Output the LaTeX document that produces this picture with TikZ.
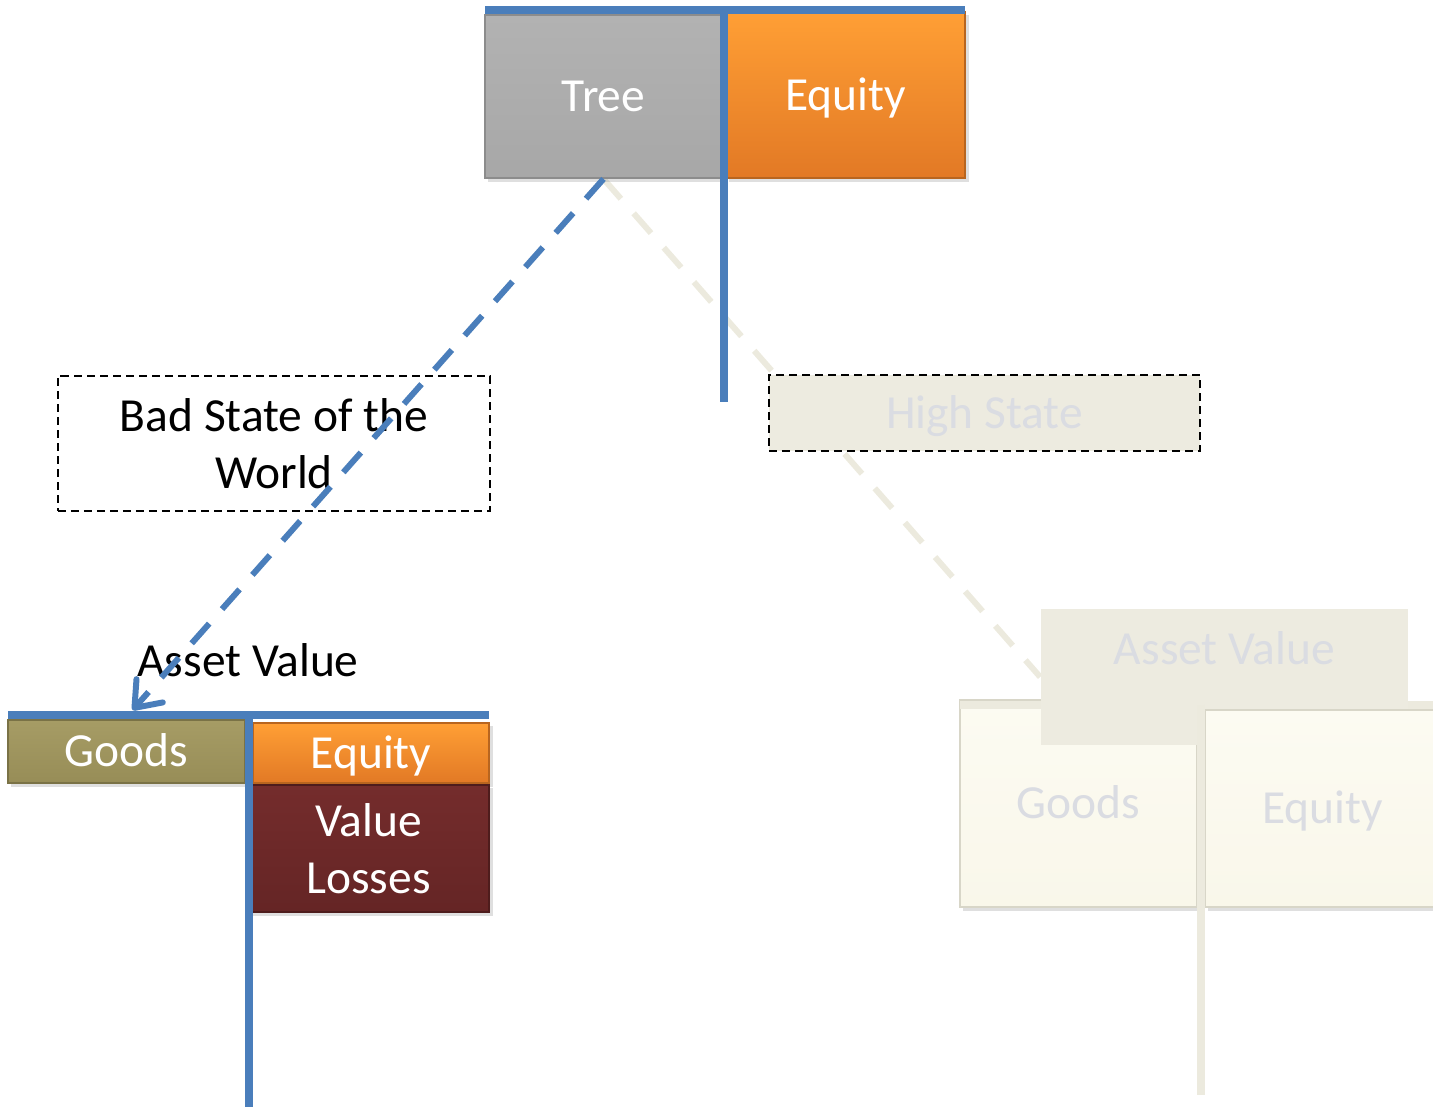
\documentclass[tikz,border=0pt]{standalone}
\usepackage{fontspec}
\setmainfont{Carlito}
\usepackage{xcolor}
\definecolor{barblue}{RGB}{74, 126, 187}
\definecolor{treegray}{RGB}{178, 178, 178}
\definecolor{treeedge}{RGB}{140, 140, 140}
\definecolor{eqtop}{RGB}{255, 159, 53}
\definecolor{eqbot}{RGB}{226, 121, 37}
\definecolor{eqedge}{RGB}{184, 101, 31}
\definecolor{goodstop}{RGB}{166, 156, 101}
\definecolor{goodsbot}{RGB}{151, 141, 87}
\definecolor{goodsedge}{RGB}{122, 114, 70}
\definecolor{losstop}{RGB}{116, 44, 44}
\definecolor{lossbot}{RGB}{101, 37, 37}
\definecolor{lossedge}{RGB}{78, 28, 28}
\definecolor{paletop}{RGB}{252, 251, 242}
\definecolor{palebot}{RGB}{249, 247, 234}
\definecolor{paleedge}{RGB}{216, 214, 200}
\definecolor{statefill}{RGB}{237, 235, 224}
\definecolor{palebar}{RGB}{236, 234, 222}
\definecolor{fainttext}{RGB}{218, 220, 226}
\usepackage{tikz}
\usetikzlibrary{arrows.meta,shapes,shadows,calc}
\pgfdeclarelayer{bg}
\pgfsetlayers{bg,main}
\newcommand{\sheetfont}{\fontsize{13.5}{16.3}\selectfont}

\begin{document}
\begin{tikzpicture}[x = 0.01cm, y = -0.01cm,
  box/.style = {rectangle, draw, line width = 0.5pt, inner sep = 0pt, align = center, text = white, font = \sheetfont, drop shadow = {shadow xshift = 1pt, shadow yshift = -1pt, opacity = 0.25}},
  oneline/.style = {text height = 8.7pt, text depth = 0pt},
  statebox/.style = {rectangle, draw = black, line width = 0.6pt, dash pattern = on 2.3pt off 1.4pt, inner sep = 0pt, align = center, font = \sheetfont},
  tbar/.style = {draw = barblue, line width = 2pt},
  palet/.style = {draw = palebar, line width = 2pt},
  branch/.style = {line width = 1.7pt, dash pattern = on 7.5pt off 5.5pt}]
\useasboundingbox (0,0) rectangle (1433,1107);
% Today
\node[box, oneline, top color = treegray, bottom color = treegray!94!black, draw = treeedge, minimum width = 2.37cm, minimum height = 1.63cm] (tree) at (603.5,96.5) {Tree};
\node[box, oneline, top color = eqtop, bottom color = eqbot, draw = eqedge, minimum width = 2.39cm, minimum height = 1.66cm] (equity) at (845.5,95) {Equity};
\draw[tbar] (485,10) -- (965,10);
\draw[tbar] (724,10) -- (724,402);
% States
\node[statebox, minimum width = 4.32cm, minimum height = 1.35cm] (bad) at (274,443.5) {Bad State of the\\World};
\node[statebox, oneline, fill = statefill, text = fainttext, minimum width = 4.31cm, minimum height = 0.76cm] (high) at (984.5,413) {High State};
% Bad state balance sheet
\node[font = \sheetfont] (assetL) at (248,660) {Asset Value};
\node[box, oneline, top color = goodstop, bottom color = goodsbot, draw = goodsedge, minimum width = 2.37cm, minimum height = 0.63cm] (goodsL) at (126.5,751.5) {Goods};
\node[box, oneline, top color = eqtop, bottom color = eqbot, draw = eqedge, minimum width = 2.36cm, minimum height = 0.60cm] (equityL) at (371,753) {Equity};
\node[box, top color = losstop, bottom color = lossbot, draw = lossedge, minimum width = 2.41cm, minimum height = 1.27cm] (losses) at (368.5,848.5) {Value\\Losses};
\draw[tbar] (8,715) -- (489,715);
\draw[tbar] (249,715) -- (249,1110);
% High state balance sheet
\node[box, oneline, top color = paletop, bottom color = palebot, draw = paleedge, text = fainttext, minimum width = 2.37cm, minimum height = 2.07cm] (goodsR) at (1078.5,803.5) {Goods};
\draw[palet] (960,705) -- (1440,705);
\node[rectangle, fill = statefill, text = fainttext, font = \sheetfont, align = center, inner sep = 0pt, minimum width = 3.67cm, minimum height = 1.36cm] (assetR) at (1224.5,677) {Asset Value\\\mbox{}};
\node[box, oneline, top color = paletop, bottom color = palebot, draw = paleedge, text = fainttext, minimum width = 2.35cm, minimum height = 1.97cm] (equityR) at (1322.5,808.5) {Equity};
\draw[palet] (1201,705) -- (1201,1095);
% Branches
\begin{pgfonlayer}{bg}
\draw[branch, draw = palebar] (tree.south) -- (assetR.west);
\end{pgfonlayer}
\draw[branch, draw = barblue, -{Straight Barb[length = 6.5pt, width = 10pt, round]}] (tree.south) -- ([shift = {(6,-9)}]goodsL.north);
\end{tikzpicture}
\end{document}
